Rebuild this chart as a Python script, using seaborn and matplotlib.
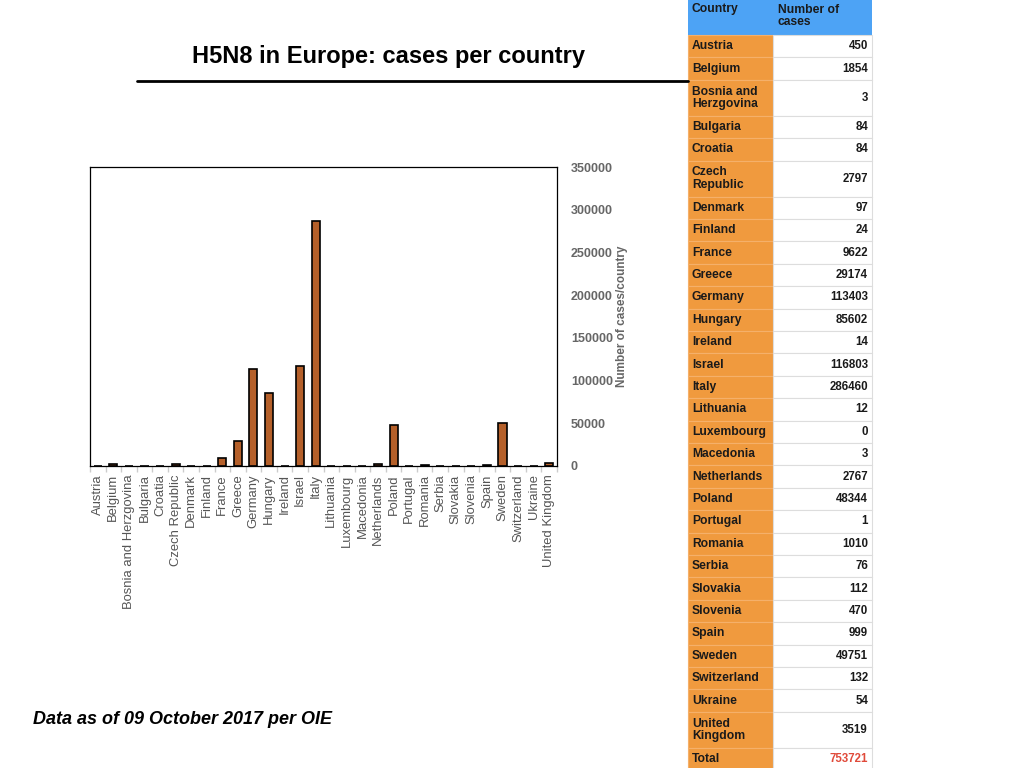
import matplotlib
matplotlib.use("Agg")
import matplotlib.pyplot as plt
import seaborn as sns
import pandas as pd
import numpy as np
from matplotlib.patches import Rectangle

countries = ["Austria", "Belgium", "Bosnia and Herzgovina", "Bulgaria", "Croatia",
             "Czech Republic", "Denmark", "Finland", "France", "Greece", "Germany",
             "Hungary", "Ireland", "Israel", "Italy", "Lithuania", "Luxembourg",
             "Macedonia", "Netherlands", "Poland", "Portugal", "Romania", "Serbia",
             "Slovakia", "Slovenia", "Spain", "Sweden", "Switzerland", "Ukraine",
             "United Kingdom"]
cases = [450, 1854, 3, 84, 84, 2797, 97, 24, 9622, 29174, 113403, 85602, 14,
         116803, 286460, 12, 0, 3, 2767, 48344, 1, 1010, 76, 112, 470, 999,
         49751, 132, 54, 3519]
table_names = ["Austria", "Belgium", "Bosnia and\nHerzgovina", "Bulgaria", "Croatia",
               "Czech\nRepublic", "Denmark", "Finland", "France", "Greece", "Germany",
               "Hungary", "Ireland", "Israel", "Italy", "Lithuania", "Luxembourg",
               "Macedonia", "Netherlands", "Poland", "Portugal", "Romania", "Serbia",
               "Slovakia", "Slovenia", "Spain", "Sweden", "Switzerland", "Ukraine",
               "United\nKingdom"]
total_cases = 753721
y_ticks = [0, 50000, 100000, 150000, 200000, 250000, 300000, 350000]

sns.set_theme(style="white")
plt.rcParams['font.family'] = ['Liberation Sans', 'DejaVu Sans']

W, H = 1024, 768
fig = plt.figure(figsize=(W / 100, H / 100), dpi=100)

# background overlay axes in pixel coordinates
bg = fig.add_axes([0, 0, 1, 1])
bg.set_xlim(0, W)
bg.set_ylim(H, 0)
bg.axis("off")

df = pd.DataFrame({"country": countries, "cases": cases})

ax = fig.add_axes([90 / W, 1 - 466 / H, (557 - 90) / W, (466 - 167) / H])
sns.barplot(data=df, x="country", y="cases", color="#B5602A", saturation=1,
            edgecolor="black", linewidth=1.2, width=0.52, ax=ax)
ax.set_xlim(-0.5, len(countries) - 0.5)
ax.set_ylim(0, 350000)
ax.set_yticks(y_ticks)
ax.yaxis.tick_right()
ax.yaxis.set_label_position("right")
ax.set_yticklabels([str(v) for v in y_ticks], color="#666666", fontweight="bold", fontsize=9)
ax.tick_params(axis="y", length=0, pad=10)
ax.set_ylabel("Number of cases/country", color="#666666", fontweight="bold", fontsize=8.5, labelpad=2)
ax.set_xlabel("")
ax.set_xticks(range(len(countries)))
ax.set_xticklabels(countries, rotation=90, color="#555555", fontsize=9.4)
ax.tick_params(axis="x", length=0, pad=6)
ax.set_xticks(np.arange(-0.5, len(countries), 1), minor=True)
ax.tick_params(axis="x", which="minor", length=4, color="#cccccc", bottom=True)
for s in ax.spines.values():
    s.set_color("black")
    s.set_linewidth(0.9)

# title, rule and footnote
fig.text(388 / W, 1 - 56 / H, "H5N8 in Europe: cases per country", ha="center", va="center",
         fontsize=17, fontweight="bold", color="black")
bg.plot([137, 688], [81, 81], color="black", lw=2)
fig.text(33 / W, 1 - 720 / H, "Data as of 09 October 2017 per OIE", ha="left", va="center",
         fontsize=13, fontweight="bold", fontstyle="italic", color="black")

# table
x0, x1, x2 = 688, 773, 872
orange = "#F09A3E"
blue = "#4DA3F5"
header_h = 35
single_h, double_h = 22.4, 36
bg.add_patch(Rectangle((x0, 0), x2 - x0, header_h, facecolor=blue, edgecolor="none"))
bg.text(x0 + 4, 9, "Country", fontsize=8.7, fontweight="bold", color="#1a1a1a", va="center")
bg.text(x1 + 5, 16, "Number of\ncases", fontsize=8.7, fontweight="bold", color="#1a1a1a",
        va="center", linespacing=1.05)
y = header_h
rows = list(zip(table_names, [str(c) for c in cases])) + [("Total", str(total_cases))]
for i, (name, val) in enumerate(rows):
    h = double_h if "\n" in name else single_h
    bg.add_patch(Rectangle((x0, y), x1 - x0, h, facecolor=orange, edgecolor="#F5B06A", lw=0.8))
    bg.add_patch(Rectangle((x1, y), x2 - x1, h, facecolor="white", edgecolor="#dddddd", lw=0.8))
    bg.text(x0 + 4, y + h / 2, name, fontsize=8.7, fontweight="bold", color="#1a1a1a",
            va="center", ha="left", linespacing=1.05)
    col = "#E04A3A" if name == "Total" else "#1a1a1a"
    bg.text(x2 - 4, y + h / 2, val, fontsize=8.3, fontweight="bold", color=col,
            va="center", ha="right")
    y += h

fig.savefig("out.png", dpi=100)
